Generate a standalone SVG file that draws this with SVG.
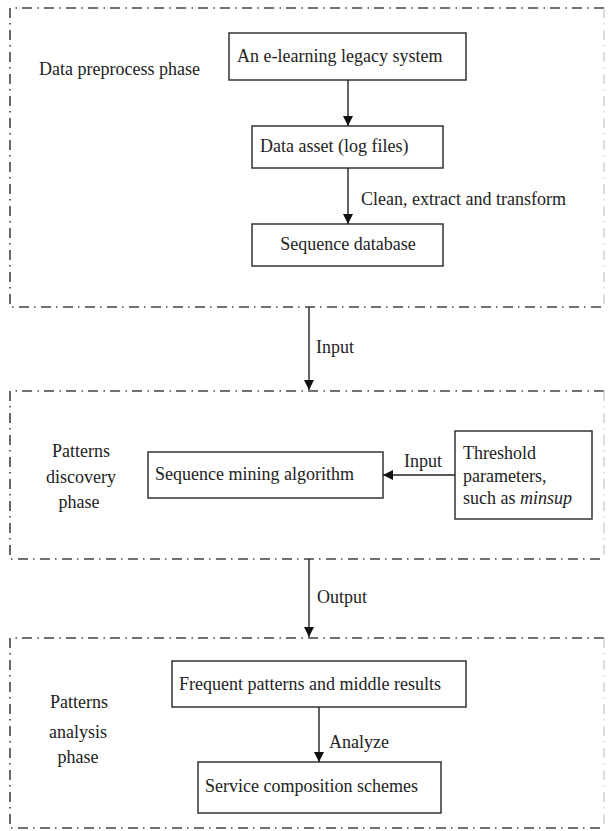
<svg xmlns="http://www.w3.org/2000/svg" width="608" height="831" viewBox="0 0 608 831">
  <style>
    .phase { fill: none; stroke: #444; stroke-width: 1.6; stroke-dasharray: 10 5 1.5 5.5; }
    .phase-r { fill: none; stroke: #c8c8c8; stroke-width: 1.2; stroke-dasharray: 10 5 1.5 5.5; }
    .box { fill: #fff; stroke: #333; stroke-width: 1.5; }
    .edge { stroke: #222; stroke-width: 1.4; fill: none; marker-end: url(#arrow); }
    text { font-family: "Liberation Serif", "Times New Roman", serif; font-size: 18px; fill: #222; }
    .mid { text-anchor: middle; }
  </style>
  <defs>
    <marker id="arrow" viewBox="0 0 10 10" refX="10" refY="5" markerWidth="10" markerHeight="10" markerUnits="userSpaceOnUse" orient="auto">
      <path d="M0,0 L10,5 L0,10 Z" fill="#111"/>
    </marker>
  </defs>

  <!-- Phase frames -->
  <g id="phase-preprocess">
    <path class="phase" d="M604,8 H10 V307 H604"/>
    <path class="phase-r" d="M604,8 V307"/>
    <text x="39" y="75">Data preprocess phase</text>
  </g>
  <g id="phase-discovery">
    <path class="phase" d="M604,391 H10 V559 H604"/>
    <path class="phase-r" d="M604,391 V559"/>
    <text class="mid" x="81" y="457">Patterns</text>
    <text class="mid" x="81" y="483">discovery</text>
    <text class="mid" x="79" y="508">phase</text>
  </g>
  <g id="phase-analysis">
    <path class="phase" d="M604,638 H10 V828 H604"/>
    <path class="phase-r" d="M604,638 V828"/>
    <text class="mid" x="79" y="708">Patterns</text>
    <text class="mid" x="78" y="738">analysis</text>
    <text class="mid" x="78" y="763">phase</text>
  </g>

  <!-- Nodes -->
  <g id="legacy-system">
    <rect class="box" x="229" y="33" width="237" height="47"/>
    <text x="237" y="62">An e-learning legacy system</text>
  </g>
  <g id="data-asset">
    <rect class="box" x="252" y="126" width="191" height="42"/>
    <text x="260" y="152">Data asset (log files)</text>
  </g>
  <g id="sequence-db">
    <rect class="box" x="252" y="224" width="191" height="42"/>
    <text class="mid" x="348" y="250">Sequence database</text>
  </g>
  <g id="mining-algorithm">
    <rect class="box" x="148" y="452" width="235" height="46"/>
    <text x="155" y="480">Sequence mining algorithm</text>
  </g>
  <g id="threshold">
    <rect class="box" x="455" y="431" width="137" height="88"/>
    <text x="463" y="459">Threshold</text>
    <text x="463" y="482">parameters,</text>
    <text x="463" y="504">such as <tspan font-style="italic">minsup</tspan></text>
  </g>
  <g id="frequent-patterns">
    <rect class="box" x="172" y="661" width="294" height="46"/>
    <text x="179" y="690">Frequent patterns and middle results</text>
  </g>
  <g id="service-schemes">
    <rect class="box" x="198" y="762" width="243" height="51"/>
    <text x="205" y="792">Service composition schemes</text>
  </g>

  <!-- Connectors -->
  <g id="connectors">
    <line class="edge" x1="348" y1="80" x2="348" y2="126"/>
    <line class="edge" x1="348" y1="168" x2="348" y2="224"/>
    <text x="361" y="205">Clean, extract and transform</text>
    <line class="edge" x1="309" y1="307" x2="309" y2="390"/>
    <text x="316" y="353">Input</text>
    <line class="edge" x1="455" y1="475" x2="383" y2="475"/>
    <text x="404" y="467">Input</text>
    <line class="edge" x1="309" y1="559" x2="309" y2="637"/>
    <text x="317" y="603">Output</text>
    <line class="edge" x1="319" y1="707" x2="319" y2="762"/>
    <text x="329" y="748">Analyze</text>
  </g>
</svg>
